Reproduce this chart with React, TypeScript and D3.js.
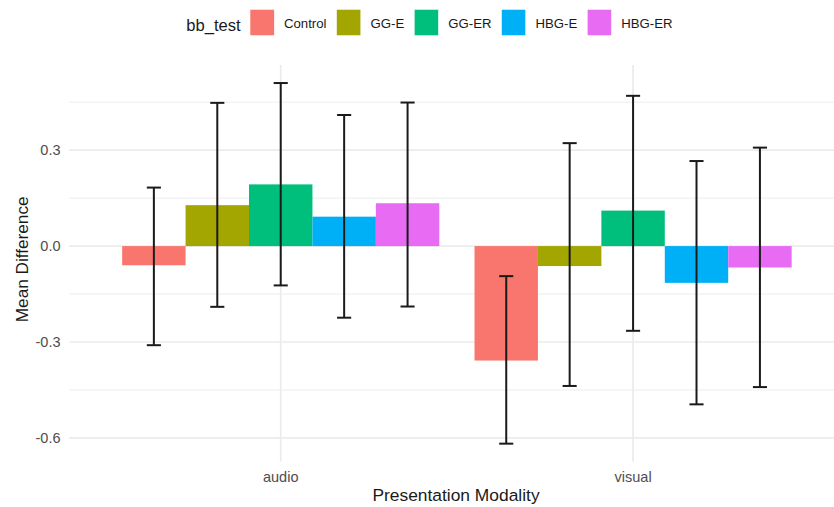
import React, { useEffect, useRef } from "react";
import * as d3 from "d3";

// data
const modalities = ["audio", "visual"];
const groups = ["Control", "GG-E", "GG-ER", "HBG-E", "HBG-ER"];
const groupColors = ["#F8766D", "#A3A500", "#00BF7D", "#00B0F6", "#E76BF3"];

const meanAudio = [-0.06, 0.128, 0.193, 0.092, 0.134];
const lowAudio = [-0.31, -0.19, -0.123, -0.224, -0.189];
const highAudio = [0.183, 0.448, 0.51, 0.41, 0.449];

const meanVisual = [-0.358, -0.0625, 0.111, -0.115, -0.067];
const lowVisual = [-0.618, -0.4375, -0.265, -0.495, -0.441];
const highVisual = [-0.094, 0.322, 0.47, 0.266, 0.308];

const majorTicks = [-0.6, -0.3, 0.0, 0.3];
const minorTicks = [-0.45, -0.15, 0.15, 0.45];

const W = 834;
const H = 507;
const FONT = "'Liberation Sans', Arial, Helvetica, sans-serif";

type Row = { modality: string; group: string; color: string; mean: number; low: number; high: number };

export default function App() {
  const svgRef = useRef<SVGSVGElement | null>(null);

  useEffect(() => {
    const svg = d3.select(svgRef.current);
    svg.selectAll("*").remove();

    const rows: Row[] = [];
    groups.forEach((g, i) => {
      rows.push({ modality: "audio", group: g, color: groupColors[i], mean: meanAudio[i], low: lowAudio[i], high: highAudio[i] });
    });
    groups.forEach((g, i) => {
      rows.push({ modality: "visual", group: g, color: groupColors[i], mean: meanVisual[i], low: lowVisual[i], high: highVisual[i] });
    });

    const panel = { left: 69.3, right: 844.5, top: 65, bottom: 461.7 };

    // ggplot style 5% expansion of the data range
    const lo = d3.min(rows, (d) => Math.min(d.low, d.mean, 0)) as number;
    const hi = d3.max(rows, (d) => Math.max(d.high, d.mean, 0)) as number;
    const pad = (hi - lo) * 0.05;

    const y = d3.scaleLinear().domain([lo - pad, hi + pad]).range([panel.bottom, panel.top]);
    const x = d3.scalePoint().domain(modalities).range([panel.left, panel.right]).padding(0.6);
    const step = x.step();
    const xg = d3.scaleBand().domain(groups).range([-0.45 * step, 0.45 * step]).padding(0);
    const capHalf = 0.02 * step;

    // grid
    const grid = svg.append("g");
    grid
      .selectAll("line.minor")
      .data(minorTicks)
      .enter()
      .append("line")
      .attr("x1", panel.left)
      .attr("x2", W)
      .attr("y1", (d) => y(d))
      .attr("y2", (d) => y(d))
      .attr("stroke", "#ebebeb")
      .attr("stroke-width", 0.9);
    grid
      .selectAll("line.major")
      .data(majorTicks)
      .enter()
      .append("line")
      .attr("x1", panel.left)
      .attr("x2", W)
      .attr("y1", (d) => y(d))
      .attr("y2", (d) => y(d))
      .attr("stroke", "#ebebeb")
      .attr("stroke-width", 1.7);
    grid
      .selectAll("line.vert")
      .data(modalities)
      .enter()
      .append("line")
      .attr("x1", (d) => x(d) as number)
      .attr("x2", (d) => x(d) as number)
      .attr("y1", panel.top)
      .attr("y2", panel.bottom)
      .attr("stroke", "#ebebeb")
      .attr("stroke-width", 1.7);

    // bars
    svg
      .append("g")
      .selectAll("rect")
      .data(rows)
      .enter()
      .append("rect")
      .attr("x", (d) => (x(d.modality) as number) + (xg(d.group) as number))
      .attr("width", xg.bandwidth())
      .attr("y", (d) => y(Math.max(0, d.mean)))
      .attr("height", (d) => Math.abs(y(d.mean) - y(0)))
      .attr("fill", (d) => d.color);

    // error bars
    const eb = svg
      .append("g")
      .attr("stroke", "#1a1a1a")
      .attr("stroke-width", 2)
      .selectAll("g")
      .data(rows)
      .enter()
      .append("g")
      .attr("transform", (d) => `translate(${(x(d.modality) as number) + (xg(d.group) as number) + xg.bandwidth() / 2},0)`);
    eb.append("line").attr("x1", 0).attr("x2", 0).attr("y1", (d) => y(d.low)).attr("y2", (d) => y(d.high));
    eb.append("line").attr("x1", -capHalf).attr("x2", capHalf).attr("y1", (d) => y(d.low)).attr("y2", (d) => y(d.low));
    eb.append("line").attr("x1", -capHalf).attr("x2", capHalf).attr("y1", (d) => y(d.high)).attr("y2", (d) => y(d.high));

    // y tick labels (plain hyphen minus, like R)
    svg
      .append("g")
      .selectAll("text")
      .data(majorTicks)
      .enter()
      .append("text")
      .attr("x", 60.5)
      .attr("y", (d) => y(d))
      .attr("dy", "0.35em")
      .attr("text-anchor", "end")
      .attr("fill", "#4d4d4d")
      .style("font-family", FONT)
      .style("font-size", "14.5px")
      .text((d) => d.toFixed(1));

    // x tick labels
    svg
      .append("g")
      .selectAll("text")
      .data(modalities)
      .enter()
      .append("text")
      .attr("x", (d) => x(d) as number)
      .attr("y", 481.5)
      .attr("text-anchor", "middle")
      .attr("fill", "#4d4d4d")
      .style("font-family", FONT)
      .style("font-size", "14.5px")
      .text((d) => d);

    // axis titles
    svg
      .append("text")
      .attr("x", 456)
      .attr("y", 500.5)
      .attr("text-anchor", "middle")
      .attr("fill", "#1a1a1a")
      .style("font-family", FONT)
      .style("font-size", "17.4px")
      .text("Presentation Modality");
    svg
      .append("text")
      .attr("transform", `translate(27.5,${(panel.top + panel.bottom) / 2 - 4}) rotate(-90)`)
      .attr("text-anchor", "middle")
      .attr("fill", "#1a1a1a")
      .style("font-family", FONT)
      .style("font-size", "17.2px")
      .text("Mean Difference");

    // legend: title right-aligned before the first key, keys laid out from measured label widths
    const legend = svg.append("g");
    const firstKey = 250;
    legend
      .append("text")
      .attr("x", firstKey - 9.3)
      .attr("y", 30.5)
      .attr("text-anchor", "end")
      .attr("fill", "#1a1a1a")
      .style("font-family", FONT)
      .style("font-size", "16.6px")
      .text("bb_test");
    let cx = firstKey;
    const keyW = 24.3;
    const keyH = 26.4;
    groups.forEach((g, i) => {
      legend
        .append("rect")
        .attr("x", cx)
        .attr("y", 22.5 - keyH / 2)
        .attr("width", keyW)
        .attr("height", keyH)
        .attr("fill", groupColors[i])
        .attr("stroke", "#ffffff")
        .attr("stroke-width", 0.6);
      const t = legend
        .append("text")
        .attr("x", cx + keyW + 9.7)
        .attr("y", 28.4)
        .attr("fill", "#1a1a1a")
        .style("font-family", FONT)
        .style("font-size", "13.2px")
        .text(g);
      const tw = (t.node() as SVGTextElement).getComputedTextLength();
      cx += keyW + 9.7 + tw + 10;
    });
  }, []);

  return (
    <svg
      ref={svgRef}
      width={W}
      height={H}
      style={{ position: "absolute", left: 0, top: 0, background: "#ffffff", display: "block" }}
    />
  );
}
